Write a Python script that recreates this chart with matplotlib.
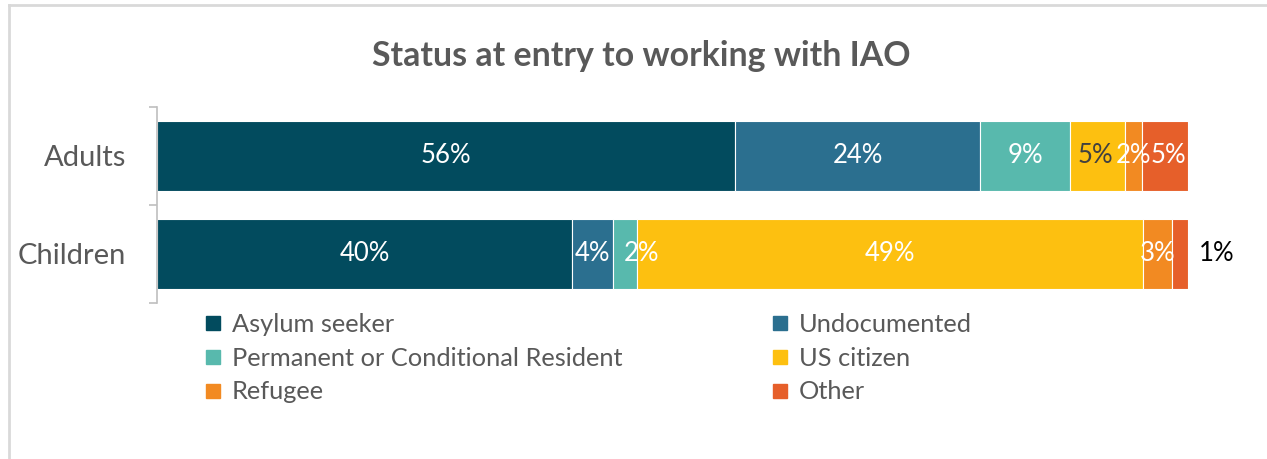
import numpy as np
import matplotlib

matplotlib.use("Agg")
import matplotlib.pyplot as plt
from matplotlib.lines import Line2D

plt.rcParams["font.family"] = ["Lato", "DejaVu Sans"]

categories = ["Adults", "Children"]
statuses = ["Asylum seeker", "Undocumented", "Permanent or Conditional Resident",
            "US citizen", "Refugee", "Other"]
adults = [56.1, 23.7, 8.8, 5.3, 1.6, 4.5]
children = [40.25, 3.95, 2.35, 49.1, 2.8, 1.55]
adult_labels = ["56%", "24%", "9%", "5%", "2%", "5%"]
child_labels = ["40%", "4%", "2%", "49%", "3%", "1%"]

colors = ["#024b5e", "#2b6f8f", "#58b9ad", "#fdc010", "#f28a22", "#e65f2a"]
GRAY = "#595959"

fig = plt.figure(figsize=(12.67, 4.59), dpi=100)
ax = fig.add_axes([0.1239, 0.340, 0.8137, 0.427])

values = np.array([adults, children])
labels = [adult_labels, child_labels]
y = np.arange(len(categories))
left = np.zeros(len(categories))
for j, name in enumerate(statuses):
    ax.barh(y, values[:, j], left=left, height=0.72, color=colors[j],
            edgecolor="white", linewidth=0.8, label=name)
    for i in range(len(categories)):
        txt = labels[i][j]
        cx = left[i] + values[i, j] / 2
        col = "white"
        if j == 3 and values[i, j] < 10:
            col = "#404040"
            cx -= 0.2
        if i == 0 and j == 5:
            cx += 0.4
        if i == 1 and j == 2:
            cx += 1.6
        if i == 1 and j == 5:
            cx = left[i] + values[i, j] + 2.8
            col = "black"
        ax.text(cx, y[i], txt, ha="center", va="center", fontsize=18.5, color=col)
    left += values[:, j]

ax.set_xlim(0, 100)
ax.set_ylim(1.5, -0.5)
ax.set_yticks(y)
ax.set_yticklabels(categories, fontsize=21, color=GRAY)
ax.set_yticks([-0.5, 0.5, 1.5], minor=True)
ax.tick_params(axis="y", which="major", length=0, pad=22)
ax.tick_params(axis="y", which="minor", length=6, color="#bfbfbf", width=1.2)
ax.set_xticks([])
for s in ["top", "right", "bottom"]:
    ax.spines[s].set_visible(False)
ax.spines["left"].set_color("#bfbfbf")
ax.spines["left"].set_linewidth(1.2)

fig.text(0.506, 0.878, "Status at entry to working with IAO", ha="center", va="center",
         fontsize=24.4, fontweight="bold", color=GRAY)

order = [0, 2, 4, 1, 3, 5]
handles = [Line2D([], [], marker="s", linestyle="none", markersize=10,
                  color=colors[k]) for k in order]
leg = fig.legend(handles, [statuses[k] for k in order], ncol=2,
                 loc="upper left", bbox_to_anchor=(0.154, 0.34), frameon=False,
                 fontsize=18.3, handlelength=0.6, handletextpad=0.45,
                 columnspacing=5.9, labelspacing=0.42, borderaxespad=0)
for t in leg.get_texts():
    t.set_color(GRAY)

# outer frame lines (top and left)
fig.add_artist(Line2D([0.0068, 1.0], [0.989, 0.989], transform=fig.transFigure,
                      color="#d9d9d9", lw=2))
fig.add_artist(Line2D([0.0068, 0.0068], [0.0, 0.989], transform=fig.transFigure,
                      color="#d9d9d9", lw=2))

fig.savefig("out.png", dpi=100)
